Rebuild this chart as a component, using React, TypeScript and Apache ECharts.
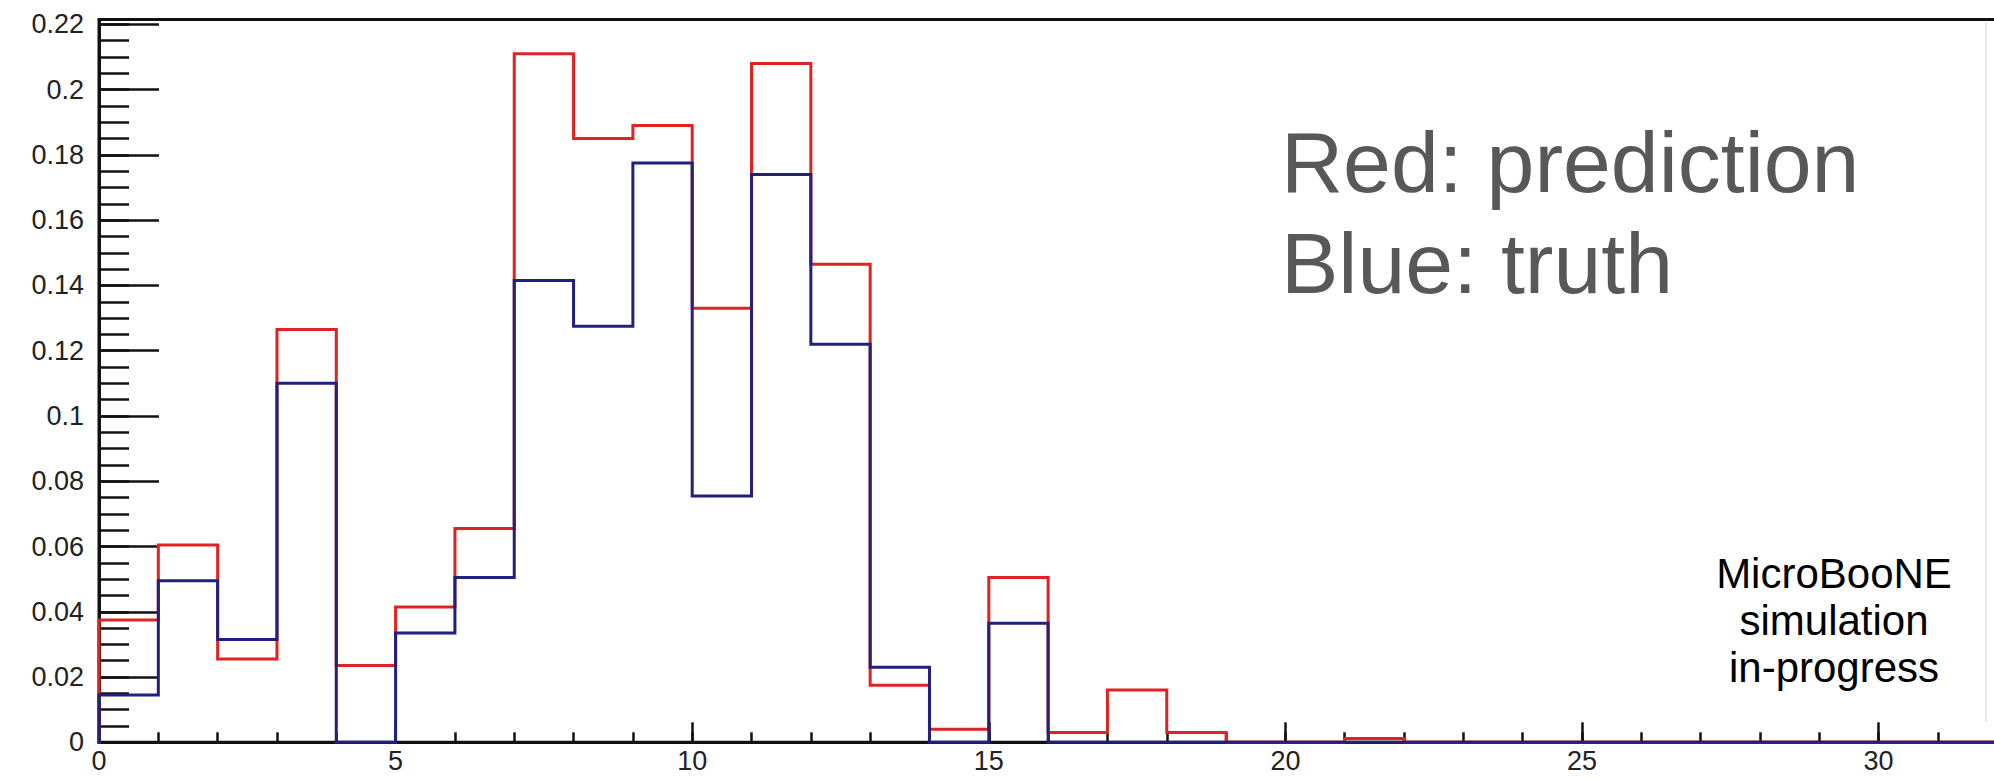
import { useEffect, useRef } from "react";
import * as echarts from "echarts";

// Histogram binning: 32 unit-width bins starting at 0
const X_MIN = 0;
const X_MAX = 32;
const BIN_WIDTH = 1;
const Y_MAX = 0.2215;

// Bin contents, one value per bin (0-1, 1-2, ...)
const prediction = [
  0.0375, 0.0605, 0.0255, 0.1265, 0.0235, 0.0415, 0.0655, 0.211,
  0.185, 0.189, 0.133, 0.208, 0.1465, 0.0175, 0.004, 0.0505,
  0.003, 0.016, 0.003, 0, 0, 0.0012, 0, 0,
  0, 0, 0, 0, 0, 0, 0, 0,
];
const truth = [
  0.0145, 0.0495, 0.0315, 0.11, 0, 0.0335, 0.0505, 0.1415,
  0.1275, 0.1775, 0.0755, 0.174, 0.122, 0.023, 0, 0.0365,
  0, 0, 0, 0, 0, 0, 0, 0,
  0, 0, 0, 0, 0, 0, 0, 0,
];

// Labelled ticks
const xTickLabels = ["0", "5", "10", "15", "20", "25", "30"];
const yTickLabels = [
  "0", "0.02", "0.04", "0.06", "0.08", "0.1", "0.12",
  "0.14", "0.16", "0.18", "0.2", "0.22",
];

const annotationLines = ["Red: prediction", "Blue: truth"];
const stampLines = ["MicroBooNE", "simulation", "in-progress"];

// Outline of a histogram as a staircase through the bin edges
function outline(values: number[]): [number, number][] {
  const pts: [number, number][] = [[X_MIN, 0]];
  values.forEach((v, i) => {
    const lo = X_MIN + i * BIN_WIDTH;
    pts.push([lo, v], [lo + BIN_WIDTH, v]);
  });
  pts.push([X_MIN + values.length * BIN_WIDTH, 0]);
  return pts;
}

function labelFor(list: string[], v: number): string {
  const hit = list.find((s) => Math.abs(parseFloat(s) - v) < 1e-9);
  return hit ?? "";
}

const FONT = '"Liberation Sans", Arial, Helvetica, sans-serif';
const AXIS_COLOR = "#111";
const LABEL_COLOR = "#222";

export default function App() {
  const ref = useRef<HTMLDivElement>(null);

  useEffect(() => {
    if (!ref.current) return;
    const chart = echarts.init(ref.current, undefined, { renderer: "svg" });

    const gridLeft = 99;
    const gridTop = 19.5;
    const gridWidth = 59.32 * (X_MAX - X_MIN);
    const gridHeight = 722.8;

    const tickCommon = { inside: true, show: true };
    const xBase = {
      type: "value" as const,
      min: X_MIN,
      max: X_MAX,
      position: "bottom" as const,
      splitLine: { show: false },
    };
    const yBase = {
      type: "value" as const,
      min: 0,
      max: Y_MAX,
      position: "left" as const,
      splitLine: { show: false },
    };

    const lineSeries = (name: string, values: number[], color: string, z: number) => ({
      name,
      type: "line" as const,
      data: outline(values),
      xAxisIndex: 0,
      yAxisIndex: 0,
      symbol: "none",
      showSymbol: false,
      clip: false,
      z,
      lineStyle: { color, width: 3, join: "miter", cap: "square" },
      emphasis: { disabled: true },
    });

    chart.setOption({
      animation: false,
      backgroundColor: "#ffffff",
      grid: {
        left: gridLeft,
        top: gridTop,
        width: gridWidth,
        height: gridHeight,
        show: true,
        borderColor: AXIS_COLOR,
        borderWidth: 3,
        backgroundColor: "transparent",
        containLabel: false,
      },
      xAxis: [
        {
          ...xBase,
          interval: 5,
          axisLine: { show: true, onZero: false, lineStyle: { color: AXIS_COLOR, width: 3 } },
          axisTick: { ...tickCommon, length: 20, lineStyle: { color: AXIS_COLOR, width: 2.5 } },
          axisLabel: {
            show: true,
            margin: 5,
            fontSize: 27,
            fontFamily: FONT,
            color: LABEL_COLOR,
            formatter: (v: number) => labelFor(xTickLabels, v),
          },
        },
        {
          ...xBase,
          interval: 1,
          axisLine: { show: false },
          axisTick: { ...tickCommon, length: 10, lineStyle: { color: AXIS_COLOR, width: 2.5 } },
          axisLabel: { show: false },
        },
      ],
      yAxis: [
        {
          ...yBase,
          interval: 0.02,
          axisLine: { show: true, onZero: false, lineStyle: { color: AXIS_COLOR, width: 3 } },
          axisTick: { ...tickCommon, length: 60, lineStyle: { color: AXIS_COLOR, width: 2.5 } },
          axisLabel: {
            show: true,
            margin: 15,
            fontSize: 27,
            fontFamily: FONT,
            color: LABEL_COLOR,
            formatter: (v: number) => labelFor(yTickLabels, v),
          },
        },
        {
          ...yBase,
          interval: 0.005,
          axisLine: { show: false },
          axisTick: { ...tickCommon, length: 30, lineStyle: { color: AXIS_COLOR, width: 2.5 } },
          axisLabel: { show: false },
        },
      ],
      series: [
        lineSeries("prediction", prediction, "#e02222", 3),
        lineSeries("truth", truth, "#20207e", 4),
      ],
      graphic: [
        // faint slide edge on the right
        {
          type: "line",
          silent: true,
          shape: { x1: 1986, y1: 22, x2: 1986, y2: 722 },
          style: { stroke: "#e8e8e8", lineWidth: 2 },
        },
        ...annotationLines.map((t, i) => ({
          type: "text",
          silent: true,
          x: 1281,
          y: 162 + i * 101,
          style: {
            text: t,
            font: `86px ${FONT}`,
            fill: "#585858",
            textAlign: "left",
            textVerticalAlign: "middle",
            align: "left",
            verticalAlign: "middle",
          },
        })),
        ...stampLines.map((t, i) => ({
          type: "text",
          silent: true,
          x: 1834,
          y: 573.5 + i * 47,
          style: {
            text: t,
            font: `42px ${FONT}`,
            fill: "#000",
            textAlign: "center",
            textVerticalAlign: "middle",
            align: "center",
            verticalAlign: "middle",
          },
        })),
      ],
    });

    return () => chart.dispose();
  }, []);

  return (
    <div
      style={{
        position: "fixed",
        left: 0,
        top: 0,
        width: 1994,
        height: 780,
        overflow: "hidden",
        background: "#fff",
      }}
    >
      <div ref={ref} style={{ width: 2010, height: 780 }} />
    </div>
  );
}
